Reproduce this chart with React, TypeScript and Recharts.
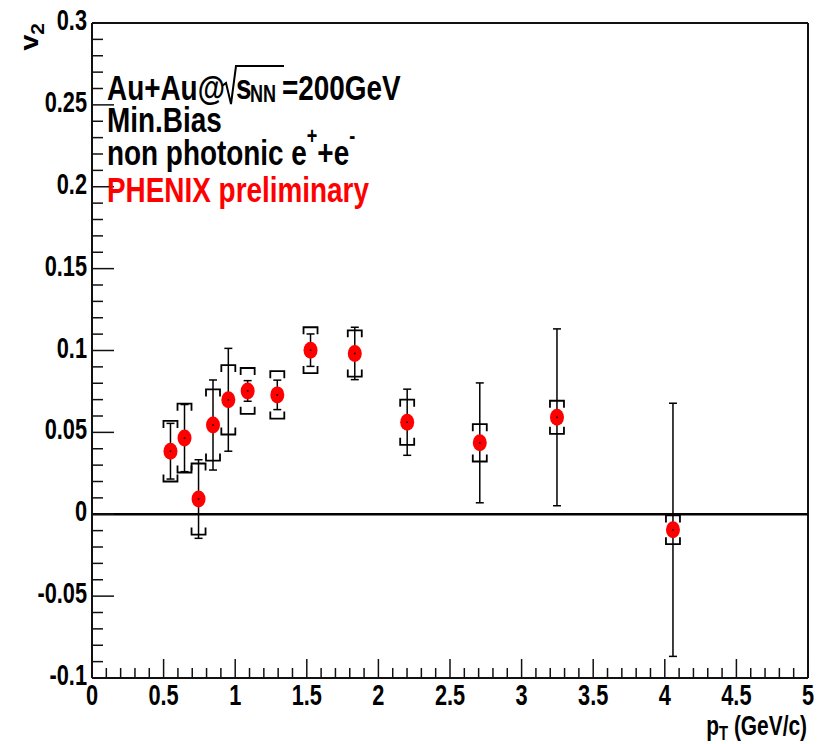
import { ScatterChart, Scatter, XAxis, YAxis, ErrorBar, ReferenceLine } from 'recharts';

// non-photonic electron v2 vs pT, Au+Au 200 GeV min. bias
const pt = [0.548, 0.646, 0.744, 0.845, 0.952, 1.087, 1.294, 1.526, 1.835, 2.201, 2.708, 3.247, 4.057];
const v2 = [0.0385, 0.0465, 0.0093, 0.0545, 0.0699, 0.0753, 0.0729, 0.1002, 0.0982, 0.0562, 0.0436, 0.0592, -0.0095];
const statErr = [0.017, 0.0205, 0.024, 0.0275, 0.0314, 0.0063, 0.009, 0.0099, 0.016, 0.0202, 0.0366, 0.054, 0.0773];
const sysErr = [0.0185, 0.021, 0.0217, 0.0217, 0.0212, 0.014, 0.0145, 0.014, 0.0141, 0.0138, 0.0114, 0.0101, 0.0088];

const xMajor = [0, 0.5, 1, 1.5, 2, 2.5, 3, 3.5, 4, 4.5, 5];
const yMajor = [-0.1, -0.05, 0, 0.05, 0.1, 0.15, 0.2, 0.25, 0.3];

// minor ticks every 0.1 in x and 0.01 in y
const xTicks = Array.from({ length: 51 }, (_, i) => i / 10);
const yTicks = Array.from({ length: 41 }, (_, i) => (i - 10) / 100);

const points = pt.map((x, i) => ({ x, y: v2[i], stat: statErr[i] }));
const sysHigh = pt.map((x, i) => ({ x, y: v2[i] + sysErr[i] }));
const sysLow = pt.map((x, i) => ({ x, y: v2[i] - sysErr[i] }));

const FONT = "'Liberation Sans', Arial, Helvetica, sans-serif";
// narrow, tall glyphs
const SX = 0.87;
const SY = 1.15;

const isMajor = (list: number[], v: number) => list.some((m) => Math.abs(m - v) < 1e-9);

function XTick({ x, y, payload }: any) {
  const major = isMajor(xMajor, payload.value);
  return (
    <g>
      <line x1={x} y1={y} x2={x} y2={y - (major ? 19 : 10)} stroke="#111" strokeWidth={1.5} />
      {major && (
        <text
          transform={`translate(${x},${y + 27}) scale(${SX},${SY})`}
          textAnchor="middle"
          fontFamily={FONT}
          fontWeight="bold"
          fontSize={25}
          fill="#000"
        >
          {String(payload.value)}
        </text>
      )}
    </g>
  );
}

function YTick({ x, y, payload }: any) {
  const major = isMajor(yMajor, payload.value);
  return (
    <g>
      <line x1={x} y1={y} x2={x + (major ? 22 : 11)} y2={y} stroke="#111" strokeWidth={1.5} />
      {major && (
        <text
          transform={`translate(${x - 5},${y + 7}) scale(${SX},${SY})`}
          textAnchor="end"
          fontFamily={FONT}
          fontWeight="bold"
          fontSize={25}
          fill="#000"
        >
          {String(payload.value)}
        </text>
      )}
    </g>
  );
}

function Marker({ cx, cy }: any) {
  return (
    <g>
      <ellipse cx={cx} cy={cy} rx={7} ry={8.5} fill="#ff0000" />
      <rect x={cx - 0.75} y={cy - 0.75} width={1.5} height={1.5} fill="#000" />
    </g>
  );
}

// systematic brackets: top edge opens downward, bottom edge opens upward
function BracketTop({ cx, cy }: any) {
  return (
    <path
      d={`M${cx - 7},${cy + 7} L${cx - 7},${cy} L${cx + 7},${cy} L${cx + 7},${cy + 7}`}
      fill="none"
      stroke="#000"
      strokeWidth={1.8}
    />
  );
}

function BracketBottom({ cx, cy }: any) {
  return (
    <path
      d={`M${cx - 7},${cy - 7} L${cx - 7},${cy} L${cx + 7},${cy} L${cx + 7},${cy - 7}`}
      fill="none"
      stroke="#000"
      strokeWidth={1.8}
    />
  );
}

function Txt({ x, y, size = 31, sx = 0.9, color = '#000', anchor = 'start', children }: any) {
  return (
    <text
      transform={`translate(${x},${y}) scale(${sx},${SY})`}
      textAnchor={anchor}
      fontFamily={FONT}
      fontWeight="bold"
      fontSize={size}
      fill={color}
    >
      {children}
    </text>
  );
}

export default function App() {
  return (
    <div style={{ position: 'absolute', left: 0, top: 0, width: 821, height: 744, background: '#fff' }}>
      <ScatterChart width={821} height={744} margin={{ top: 23, right: 13, bottom: 0, left: 0 }}>
        <XAxis
          type="number"
          dataKey="x"
          domain={[0, 5]}
          ticks={xTicks}
          interval={0}
          allowDataOverflow
          height={66}
          tickSize={0}
          tickMargin={0}
          tickLine={false}
          tick={(p: any) => <XTick {...p} />}
          axisLine={{ stroke: '#111', strokeWidth: 2 }}
        />
        <YAxis
          type="number"
          dataKey="y"
          domain={[-0.1, 0.3]}
          ticks={yTicks}
          interval={0}
          allowDataOverflow
          width={92}
          tickSize={0}
          tickMargin={0}
          tickLine={false}
          tick={(p: any) => <YTick {...p} />}
          axisLine={{ stroke: '#111', strokeWidth: 2 }}
        />
        <ReferenceLine y={0.3} stroke="#111" strokeWidth={2} />
        <ReferenceLine x={5} stroke="#111" strokeWidth={2} />
        <ReferenceLine y={0} stroke="#000" strokeWidth={2.5} />
        <Scatter data={sysHigh} shape={(p: any) => <BracketTop {...p} />} isAnimationActive={false} />
        <Scatter data={sysLow} shape={(p: any) => <BracketBottom {...p} />} isAnimationActive={false} />
        <Scatter data={points} shape={(p: any) => <Marker {...p} />} isAnimationActive={false}>
          <ErrorBar dataKey="stat" direction="y" width={4} stroke="#000" strokeWidth={1.5} isAnimationActive={false} />
        </Scatter>
      </ScatterChart>

      <svg
        width={821}
        height={744}
        style={{ position: 'absolute', left: 0, top: 0, pointerEvents: 'none' }}
      >
        {/* axis titles */}
        <text
          transform="translate(38,23) rotate(-90) scale(1.1,1)"
          textAnchor="end"
          fontFamily={FONT}
          fontWeight="bold"
          fontSize={26}
          fill="#000"
        >
          v<tspan fontSize={19} dy={6}>2</tspan>
        </text>
        <Txt x={807} y={735} size={24} sx={SX} anchor="end">
          p<tspan fontSize={17} dy={4}>T</tspan>
          <tspan dy={-4}> (GeV/c)</tspan>
        </Txt>

        {/* annotation block */}
        <Txt x={107} y={100}>Au+Au@</Txt>
        <path d="M222,86 L226,83 L231,104 L236,66 L284,66" fill="none" stroke="#000" strokeWidth={2} />
        <Txt x={236} y={99}>s</Txt>
        <Txt x={250} y={102} size={20}>NN</Txt>
        <Txt x={282} y={100}>=200GeV</Txt>
        <Txt x={107} y={132}>Min.Bias</Txt>
        <Txt x={107} y={165}>
          non photonic e<tspan fontSize={20} dy={-18}>+</tspan>
          <tspan dy={18}>+e</tspan>
          <tspan fontSize={20} dy={-18}>-</tspan>
        </Txt>
        <Txt x={107} y={202} color="#ff0000">PHENIX preliminary</Txt>
      </svg>
    </div>
  );
}
